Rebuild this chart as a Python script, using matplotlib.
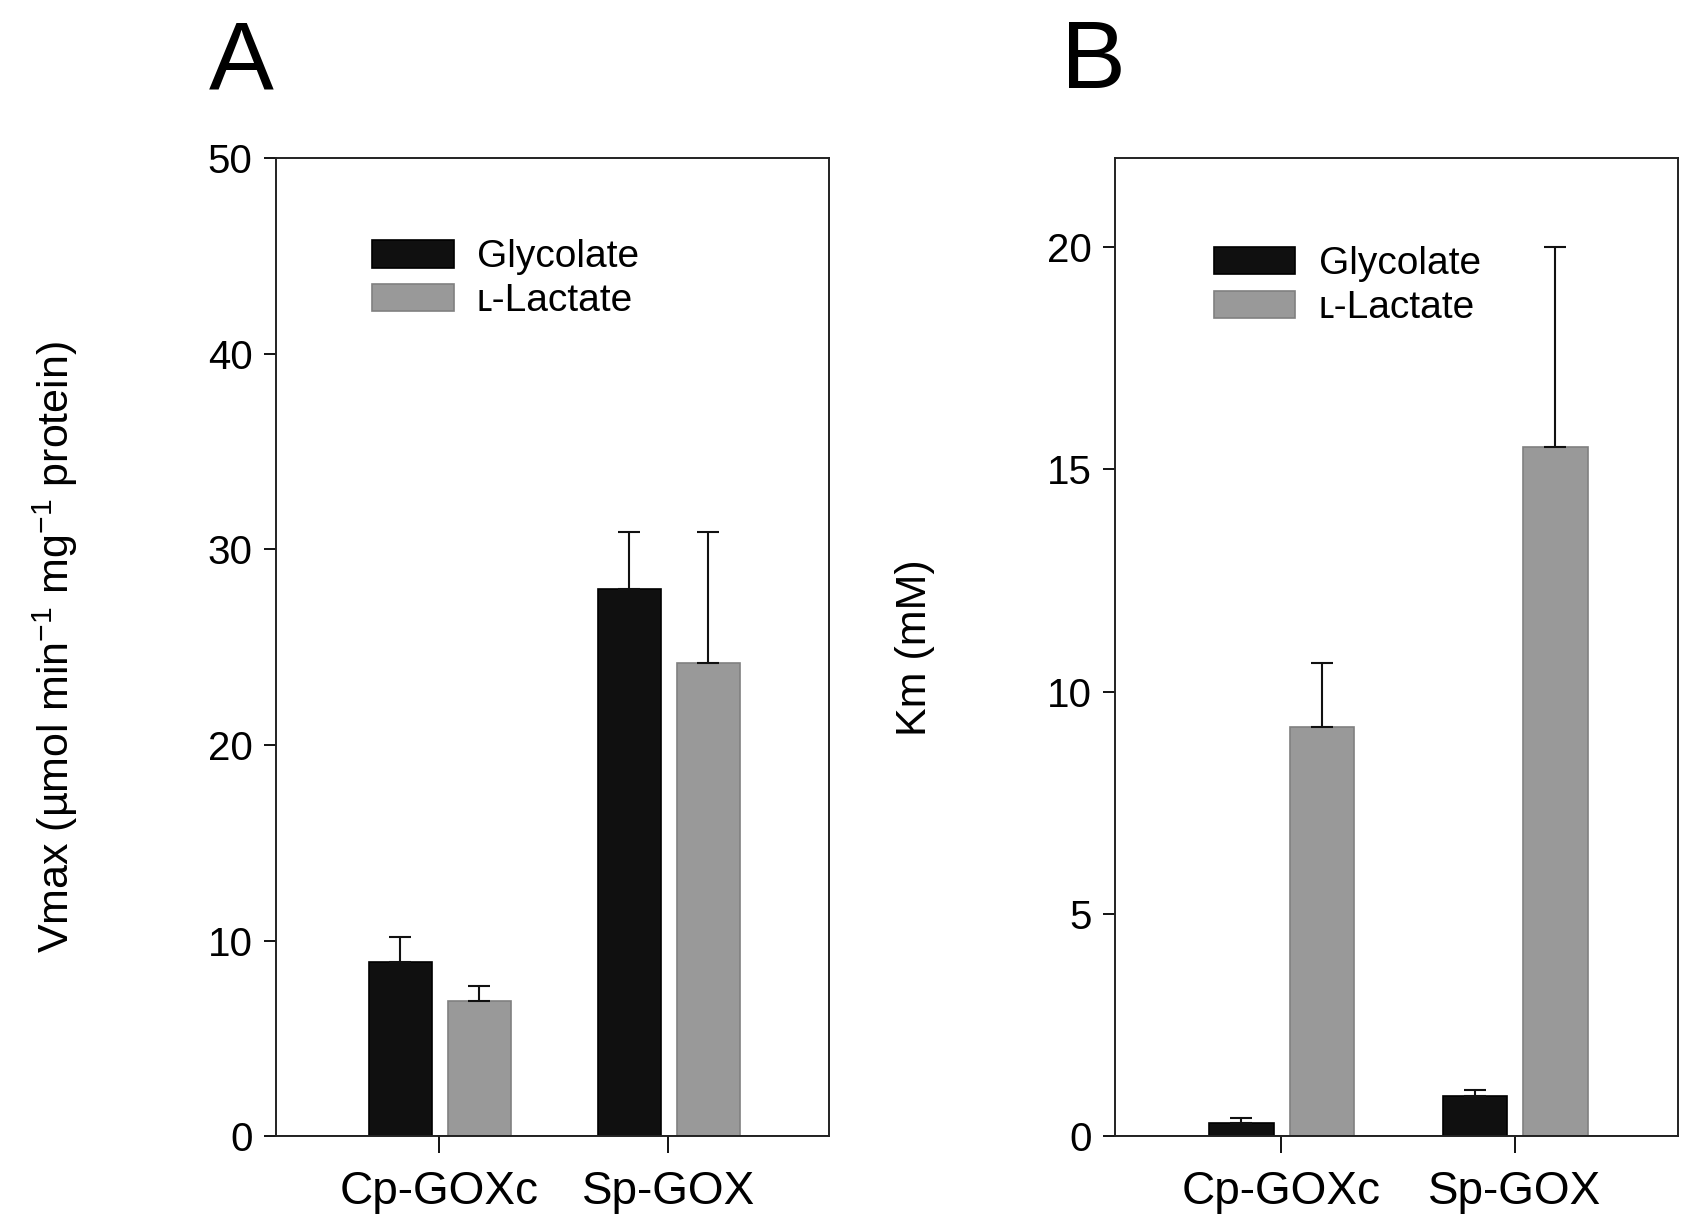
import matplotlib.pyplot as plt
import numpy as np

plt.rcParams['font.family'] = ['Liberation Sans', 'DejaVu Sans']
plt.rcParams['mathtext.default'] = 'regular'

# data
enzymes = ['Cp-GOXc', 'Sp-GOX']
series = ['Glycolate', 'ʟ-Lactate']

vmax_glycolate = [8.9, 28.0]
vmax_glycolate_err = [1.3, 2.9]
vmax_lactate = [6.9, 24.2]
vmax_lactate_err = [0.8, 6.7]

km_glycolate = [0.3, 0.9]
km_glycolate_err = [0.1, 0.15]
km_lactate = [9.2, 15.5]
km_lactate_err = [1.45, 4.5]

colors = ['#101010', '#999999']
edges = ['#000000', '#808080']

fig = plt.figure(figsize=(16.95, 12.27), dpi=100)
ax_a = fig.add_axes([0.163, 0.074, 0.326, 0.797])
ax_b = fig.add_axes([0.658, 0.074, 0.332, 0.797])


def draw_panel(ax, vals, errs, ylim, yticks, ylabel, legend_anchor):
    x = np.arange(1, len(enzymes) + 1)
    width = 0.275
    offsets = [-0.17, 0.175]
    for i in range(2):
        ax.bar(x + offsets[i], vals[i], width, color=colors[i], edgecolor=edges[i],
               linewidth=1.2, label=series[i], zorder=2)
        ax.errorbar(x + offsets[i], vals[i], yerr=[np.zeros(len(x)), errs[i]],
                    fmt='none', ecolor='#111111', elinewidth=1.5, capsize=8,
                    capthick=1.5, zorder=3)
    ax.set_xlim(0.29, 2.7)
    ax.set_ylim(*ylim)
    ax.set_yticks(yticks)
    ax.set_xticks(x)
    ax.set_xticklabels(enzymes, fontsize=33)
    ax.tick_params(axis='y', direction='out', length=9, width=1.3, labelsize=29, pad=8)
    ax.tick_params(axis='x', direction='out', length=12, width=1.3, pad=12)
    for s in ax.spines.values():
        s.set_linewidth(1.4)
        s.set_color('#222222')
    ax.axhline(0, color='#222222', lw=2, zorder=4)
    ax.set_ylabel(ylabel, fontsize=31)
    ax.legend(loc='upper left', bbox_to_anchor=legend_anchor, frameon=False,
              fontsize=28, handlelength=2.1, handleheight=0.72,
              handletextpad=0.6, labelspacing=0.2, borderaxespad=0)


draw_panel(ax_a, [vmax_glycolate, vmax_lactate], [vmax_glycolate_err, vmax_lactate_err],
           (0, 50), [0, 10, 20, 30, 40, 50],
           'Vmax (µmol min$^{-1}$ mg$^{-1}$ protein)', (0.145, 0.933))
ax_a.yaxis.set_label_coords(-0.355, 0.5)

draw_panel(ax_b, [km_glycolate, km_lactate], [km_glycolate_err, km_lactate_err],
           (0, 22), [0, 5, 10, 15, 20],
           'Km (mM)', (0.147, 0.926))
ax_b.yaxis.set_label_coords(-0.32, 0.5)

fig.text(0.123, 0.928, 'A', fontsize=70)
fig.text(0.626, 0.928, 'B', fontsize=70)

fig.savefig('out.png', dpi=100)
